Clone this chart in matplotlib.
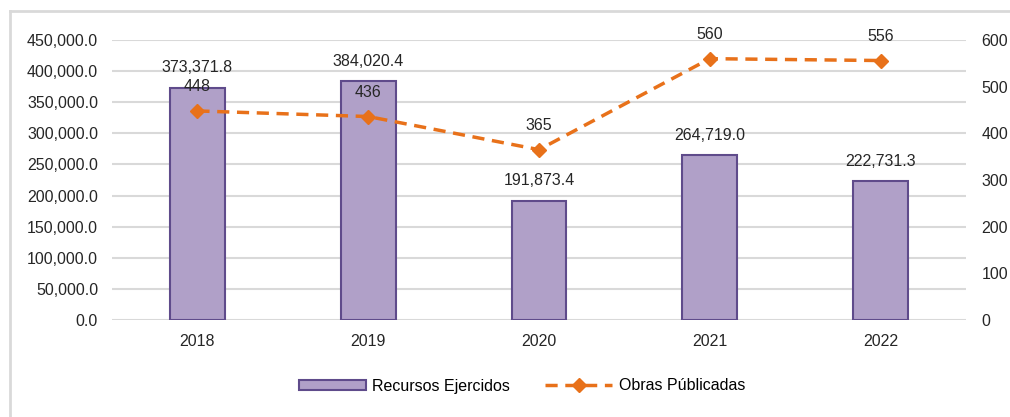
import numpy as np
import matplotlib.pyplot as plt
from matplotlib.lines import Line2D
from matplotlib.patches import Patch

plt.rcParams["font.family"] = ["Liberation Sans", "DejaVu Sans"]
plt.rcParams["font.size"] = 11.5

years = ["2018", "2019", "2020", "2021", "2022"]
recursos = [373371.8, 384020.4, 191873.4, 264719.0, 222731.3]
obras = [448, 436, 365, 560, 556]

bar_face = "#B0A0C8"
bar_edge = "#5F4B8B"
line_col = "#E8711A"
grid_col = "#D9D9D9"
txt_col = "#262626"
dash = (0, (3.5, 2.2))
fs = 11.5

fig = plt.figure(figsize=(10.1, 4.17), dpi=100)
ax = fig.add_axes([112/1010, 1 - 320/417, 854/1010, 280/417])
ax2 = ax.twinx()

x = np.arange(len(years))
ax.bar(x, recursos, width=0.32, color=bar_face, edgecolor=bar_edge, linewidth=1.5, zorder=2)
ax.set_xlim(-0.5, 4.5)
ax.set_ylim(0, 450000)
ax.set_yticks(np.arange(0, 450001, 50000))
ax.set_yticklabels(["{:,.1f}".format(v) for v in np.arange(0, 450001, 50000)])
ax.yaxis.grid(True, color=grid_col, linewidth=1.5, zorder=0)
ax.set_axisbelow(True)
ax.set_xticks(x)
ax.set_xticklabels(years)
ax.tick_params(length=0, pad=10, labelsize=fs, colors=txt_col)
for s in ax.spines.values():
    s.set_visible(False)

for xi, v in zip(x, recursos):
    ax.annotate("{:,.1f}".format(v), (xi, v), xytext=(0, 9), textcoords="offset points",
                ha="center", va="bottom", fontsize=fs, color=txt_col)

ax2.plot(x, obras, color=line_col, linestyle=dash, linewidth=2.5,
         marker="D", markersize=7, zorder=3)
ax2.set_ylim(0, 600)
ax2.set_yticks(np.arange(0, 601, 100))
ax2.tick_params(length=0, pad=11, labelsize=fs, colors=txt_col)
for s in ax2.spines.values():
    s.set_visible(False)

for xi, v in zip(x, obras):
    ax2.annotate(str(v), (xi, v), xytext=(0, 12), textcoords="offset points",
                 ha="center", va="bottom", fontsize=fs, color=txt_col)

handles = [Patch(facecolor=bar_face, edgecolor=bar_edge, linewidth=1.5),
           Line2D([0], [0], color=line_col, linestyle=dash, linewidth=2.5,
                  marker="D", markersize=7)]
fig.legend(handles, ["Recursos Ejercidos", "Obras Públicadas"], loc="center",
           bbox_to_anchor=(522/1010, 1 - 386/417), ncol=2, frameon=False,
           handlelength=4.2, handleheight=0.6, handletextpad=0.4, columnspacing=2.2,
           fontsize=fs)

# light frame, only top and left edges are visible in the original
fig.add_artist(Line2D([10/1010, 1], [1 - 11/417, 1 - 11/417], transform=fig.transFigure,
                      color=grid_col, linewidth=2))
fig.add_artist(Line2D([10/1010, 10/1010], [0, 1 - 11/417], transform=fig.transFigure,
                      color=grid_col, linewidth=2))

fig.savefig("out.png", dpi=100)
